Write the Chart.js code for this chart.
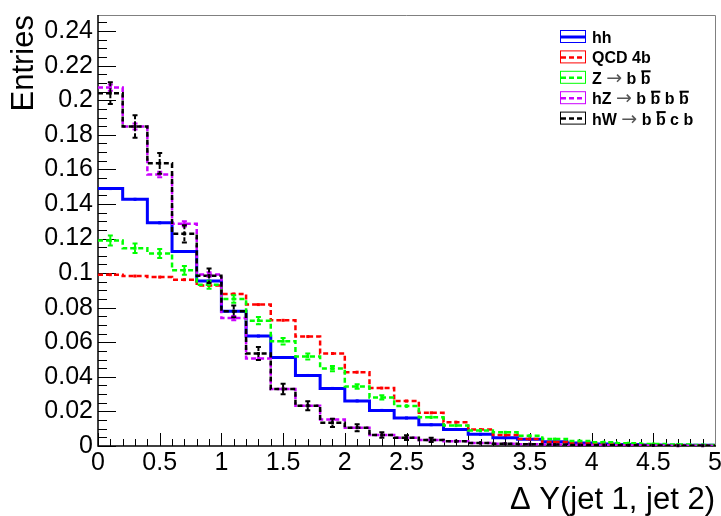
<!DOCTYPE html>
<html>
<head>
<meta charset="utf-8">
<script src="https://cdn.jsdelivr.net/npm/chart.js@4.4.0/dist/chart.umd.min.js"></script>
<style>
  html, body { margin: 0; padding: 0; background: #fff; }
  #wrap { width: 721px; height: 516px; }
</style>
</head>
<body>
<div id="wrap"><canvas id="dyChart" width="721" height="516"></canvas></div>
<script>
// bin edges of the Delta Y histogram (25 bins of 0.2)
const binEdges = [0, 0.2, 0.4, 0.6, 0.8, 1, 1.2, 1.4, 1.6, 1.8, 2, 2.2, 2.4, 2.6, 2.8,
                  3, 3.2, 3.4, 3.6, 3.8, 4, 4.2, 4.4, 4.6, 4.8, 5];

const legendLabels = ['hh', 'QCD 4b', 'Z → b b\u0304', 'hZ → b b\u0304 b b\u0304', 'hW → b b\u0304 c b'];

const hh = [0.1489, 0.1427, 0.1291, 0.1125, 0.0954, 0.0779, 0.0636, 0.0512, 0.0408, 0.0333,
            0.0261, 0.0206, 0.0162, 0.0123, 0.0096, 0.0068, 0.0048, 0.0039, 0.0025, 0.0017,
            0.0012, 0.0009, 0.0006, 0.0005, 0.0004];
const qcd = [0.0991, 0.0983, 0.0977, 0.0962, 0.0929, 0.0879, 0.0818, 0.0727, 0.0633, 0.0535,
             0.0427, 0.0335, 0.0260, 0.0192, 0.0138, 0.0095, 0.0063, 0.0040, 0.0023, 0.0016,
             0.0012, 0.0009, 0.0006, 0.0004, 0.0003];
const zbb = [0.1189, 0.1144, 0.1114, 0.1016, 0.0933, 0.0850, 0.0725, 0.0606, 0.0518, 0.0448,
             0.0344, 0.0281, 0.0231, 0.0166, 0.0119, 0.0090, 0.0079, 0.0059, 0.0040, 0.0029,
             0.0022, 0.0016, 0.0012, 0.0009, 0.0006];
const hz = [0.2073, 0.1848, 0.1571, 0.1285, 0.0992, 0.0740, 0.0506, 0.0330, 0.0233, 0.0154,
            0.0106, 0.0063, 0.0048, 0.0035, 0.0027, 0.0018, 0.0013, 0.0010, 0.0008, 0.0006,
            0.0005, 0.0004, 0.0003, 0.0002, 0.0002];
const hw = [0.2041, 0.1848, 0.1635, 0.1227, 0.0985, 0.0779, 0.0535, 0.0330, 0.0233, 0.0134,
            0.0106, 0.0063, 0.0048, 0.0035, 0.0027, 0.0018, 0.0013, 0.0010, 0.0008, 0.0006,
            0.0005, 0.0004, 0.0003, 0.0002, 0.0002];

// statistical errors per bin
const hhErr = [0.0006, 0.0006, 0.0006, 0.0005, 0.0005, 0.0005, 0.0004, 0.0004, 0.0004, 0.0003,
               0.0003, 0.0003, 0.0003, 0.0002, 0.0002, 0.0002, 0.0002, 0.0002, 0.0001, 0.0001,
               0.0001, 0.0001, 0.0001, 0.0001, 0.0001];
const qcdErr = [0.0004, 0.0004, 0.0004, 0.0004, 0.0004, 0.0004, 0.0004, 0.0003, 0.0003, 0.0003,
                0.0003, 0.0003, 0.0002, 0.0002, 0.0002, 0.0002, 0.0001, 0.0001, 0.0001, 0.0001,
                0.0001, 0.0001, 0.0001, 0.0001, 0.0001];
const zbbErr = [0.0029, 0.0027, 0.0026, 0.0025, 0.0023, 0.0022, 0.0021, 0.0019, 0.0017, 0.0015,
                0.0013, 0.0012, 0.0011, 0.0009, 0.0008, 0.0007, 0.0006, 0.0006, 0.0005, 0.0004,
                0.0004, 0.0003, 0.0003, 0.0002, 0.0002];
const hzErr = [0.0018, 0.0017, 0.0016, 0.0015, 0.0013, 0.0012, 0.0010, 0.0009, 0.0008, 0.0006,
               0.0005, 0.0004, 0.0004, 0.0003, 0.0003, 0.0003, 0.0002, 0.0002, 0.0002, 0.0001,
               0.0001, 0.0001, 0.0001, 0.0001, 0.0001];
const hwErr = [0.0063, 0.0065, 0.0060, 0.0050, 0.0042, 0.0034, 0.0037, 0.0030, 0.0026, 0.0024,
               0.0020, 0.0016, 0.0014, 0.0012, 0.0010, 0.0009, 0.0008, 0.0007, 0.0006, 0.0005,
               0.0004, 0.0004, 0.0003, 0.0003, 0.0002];

const xTicks = [0, 0.5, 1, 1.5, 2, 2.5, 3, 3.5, 4, 4.5, 5];
const yTicks = [0, 0.02, 0.04, 0.06, 0.08, 0.1, 0.12, 0.14, 0.16, 0.18, 0.2, 0.22, 0.24];

const FONT = '"Liberation Sans", Arial, Helvetica, sans-serif';
const Y_MAX = 0.2493;

const allValues = [hh, qcd, zbb, hz, hw];
const allErrors = [hhErr, qcdErr, zbbErr, hzErr, hwErr];
const styles = [
    { color: '#0000ff', dash: [], width: 3 },
    { color: '#ff0000', dash: [5, 3], width: 2.5 },
    { color: '#00ff00', dash: [5, 3], width: 2.5 },
    { color: '#cc00ff', dash: [5, 3], width: 2.5 },
    { color: '#000000', dash: [5, 3], width: 2.5 }
];

const toSteps = vals => binEdges.map((x, i) => ({ x: x, y: vals[Math.min(i, vals.length - 1)] }));

// frame + inward ticks, ROOT style
const frameTicks = {
    id: 'frameTicks',
    beforeDatasetsDraw(chart) {
        const { ctx, chartArea: a, scales: { x, y } } = chart;
        ctx.save();
        ctx.strokeStyle = '#000';
        ctx.lineWidth = 1;
        ctx.beginPath();
        for (let k = 0; k <= 49; k++) {
            const py = Math.round(y.getPixelForValue(k * 0.005)) + 0.5;
            if (py < a.top) break;
            const len = k % 4 === 0 ? 18 : 9;
            ctx.moveTo(a.left, py);
            ctx.lineTo(a.left + len, py);
        }
        for (let k = 0; k <= 50; k++) {
            const px = Math.round(x.getPixelForValue(k * 0.1)) + 0.5;
            const len = k % 5 === 0 ? 13 : 7;
            ctx.moveTo(px, a.bottom);
            ctx.lineTo(px, a.bottom - len);
        }
        ctx.stroke();

        ctx.strokeStyle = '#808080';
        ctx.beginPath();
        ctx.moveTo(a.left, a.top + 0.5);
        ctx.lineTo(a.right + 0.5, a.top + 0.5);
        ctx.lineTo(a.right + 0.5, a.bottom);
        ctx.stroke();

        ctx.strokeStyle = '#000';
        ctx.lineWidth = 1.5;
        ctx.beginPath();
        ctx.moveTo(a.left, a.top);
        ctx.lineTo(a.left, a.bottom);
        ctx.lineTo(a.right + 1, a.bottom);
        ctx.stroke();
        ctx.restore();
    }
};

// vertical error bars and markers at bin centres
const errorBars = {
    id: 'errorBars',
    afterDatasetsDraw(chart) {
        const { ctx, chartArea: a, scales: { x, y } } = chart;
        ctx.save();
        ctx.beginPath();
        ctx.rect(a.left, a.top, a.right - a.left, a.bottom - a.top + 2);
        ctx.clip();
        allValues.forEach((vals, k) => {
            const s = styles[k];
            const errs = allErrors[k];
            ctx.strokeStyle = s.color;
            ctx.fillStyle = s.color;
            ctx.lineWidth = 2;
            ctx.setLineDash(s.dash.length ? [4, 2] : []);
            vals.forEach((v, i) => {
                const cx = x.getPixelForValue((binEdges[i] + binEdges[i + 1]) / 2);
                const cy = y.getPixelForValue(v);
                const yTop = y.getPixelForValue(v + errs[i]);
                const yBot = y.getPixelForValue(Math.max(0, v - errs[i]));
                ctx.beginPath();
                ctx.moveTo(cx, yTop);
                ctx.lineTo(cx, yBot);
                ctx.stroke();
                if (yBot - yTop > 4) {
                    ctx.setLineDash([]);
                    ctx.beginPath();
                    ctx.moveTo(cx - 2.5, yTop); ctx.lineTo(cx + 2.5, yTop);
                    ctx.moveTo(cx - 2.5, yBot); ctx.lineTo(cx + 2.5, yBot);
                    ctx.stroke();
                    ctx.setLineDash(s.dash.length ? [4, 2] : []);
                }
                ctx.fillRect(cx - 1.5, cy - 1.5, 3, 3);
            });
        });
        ctx.restore();
    }
};

// legend box in the upper right, plus axis titles
const decorations = {
    id: 'decorations',
    afterDraw(chart) {
        const { ctx, chartArea: a } = chart;
        ctx.save();
        const size = 16;
        legendLabels.forEach((label, k) => {
            const s = styles[k];
            const cy = 37 + k * 20.4;
            ctx.setLineDash([]);
            ctx.lineWidth = 1;
            ctx.strokeStyle = s.color;
            ctx.strokeRect(560.5, cy - 6.5, 25, 12);
            ctx.lineWidth = s.width;
            ctx.setLineDash(s.dash);
            ctx.beginPath();
            ctx.moveTo(561, cy);
            ctx.lineTo(585, cy);
            ctx.stroke();
            ctx.setLineDash([]);

            let px = 592;
            const base = cy + 6;
            ctx.fillStyle = '#000';
            ctx.textBaseline = 'alphabetic';
            ctx.textAlign = 'left';
            const chars = Array.from(label);
            for (let i = 0; i < chars.length; i++) {
                const ch = chars[i];
                if (ch === '\u0304') continue;
                if (ch === '→') {
                    ctx.font = '19px "DejaVu Sans", sans-serif';
                    ctx.fillStyle = '#555';
                } else {
                    ctx.font = 'bold ' + size + 'px ' + FONT;
                    ctx.fillStyle = '#000';
                }
                const w = ctx.measureText(ch).width;
                ctx.fillText(ch, px, base);
                if (chars[i + 1] === '\u0304') {
                    ctx.fillRect(px + 0.5, base - 13.5, w - 0.5, 2);
                }
                px += w;
            }
        });

        ctx.fillStyle = '#000';
        ctx.font = '31px ' + FONT;
        ctx.textAlign = 'right';
        ctx.textBaseline = 'alphabetic';
        ctx.fillText('Δ Y(jet 1, jet 2)', a.right, 509);

        ctx.translate(33, a.top);
        ctx.rotate(-Math.PI / 2);
        ctx.fillText('Entries', 0, 0);
        ctx.restore();
    }
};

const ctx = document.getElementById('dyChart').getContext('2d');
const dyChart = new Chart(ctx, {
    type: 'line',
    data: {
        datasets: allValues.map((vals, k) => ({
            label: legendLabels[k],
            data: toSteps(vals),
            stepped: 'before',
            borderColor: styles[k].color,
            borderWidth: styles[k].width,
            borderDash: styles[k].dash,
            pointRadius: 0,
            fill: false,
            order: allValues.length - 1 - k
        }))
    },
    options: {
        responsive: false,
        animation: false,
        devicePixelRatio: 1,
        layout: { padding: { left: 0, right: 6, top: 15, bottom: 0 } },
        plugins: {
            legend: { display: false },
            tooltip: { enabled: false }
        },
        scales: {
            x: {
                type: 'linear',
                min: 0,
                max: 5,
                afterBuildTicks: scale => { scale.ticks = xTicks.map(v => ({ value: v })); },
                afterFit: scale => {
                    scale.height = 70;
                    scale.paddingLeft = 0; scale.paddingRight = 0;
                },
                ticks: {
                    autoSkip: false,
                    maxRotation: 0,
                    padding: 2,
                    color: '#000',
                    font: { family: FONT, size: 25 },
                    callback: v => String(+v.toFixed(2))
                },
                grid: { display: false, drawTicks: false },
                border: { display: false }
            },
            y: {
                min: 0,
                max: Y_MAX,
                afterBuildTicks: scale => { scale.ticks = yTicks.map(v => ({ value: v })); },
                afterFit: scale => {
                    scale.width = 98;
                    scale.paddingTop = 0; scale.paddingBottom = 0;
                },
                ticks: {
                    padding: 5,
                    color: '#000',
                    font: { family: FONT, size: 25 },
                    callback: v => String(+v.toFixed(3))
                },
                grid: { display: false, drawTicks: false },
                border: { display: false }
            }
        }
    },
    plugins: [frameTicks, errorBars, decorations]
});
</script>
</body>
</html>
